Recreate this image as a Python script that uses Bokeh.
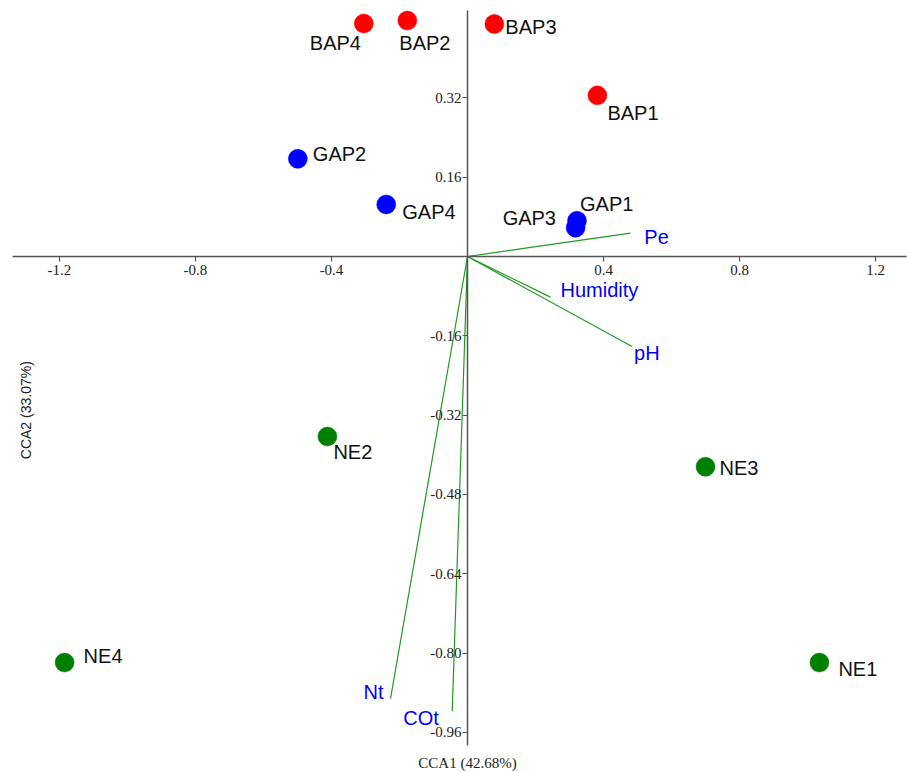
import math
from bokeh.plotting import figure
from bokeh.models import LinearAxis, FixedTicker, PrintfTickFormatter, ColumnDataSource
from bokeh.core.properties import value
from bokeh.embed import file_html
from bokeh.resources import INLINE

# ---- data -------------------------------------------------------------
site_names = ["BAP1", "BAP2", "BAP3", "BAP4",
              "GAP1", "GAP2", "GAP3", "GAP4",
              "NE1", "NE2", "NE3", "NE4"]
site_group = ["BAP"] * 4 + ["GAP"] * 4 + ["NE"] * 4
site_cca1 = [0.382, -0.177, 0.079, -0.305,
             0.322, -0.499, 0.318, -0.239,
             1.035, -0.412, 0.700, -1.185]
site_cca2 = [0.325, 0.476, 0.469, 0.470,
             0.072, 0.197, 0.058, 0.105,
             -0.819, -0.363, -0.424, -0.819]

env_names = ["Pe", "Humidity", "pH", "Nt", "COt"]
env_cca1 = [0.479, 0.244, 0.484, -0.2265, -0.045]
env_cca2 = [0.047, -0.082, -0.1815, -0.892, -0.917]

x_ticks = [-1.2, -0.8, -0.4, 0.4, 0.8, 1.2]
y_ticks = [0.32, 0.16, -0.16, -0.32, -0.48, -0.64, -0.80, -0.96]

x_title = "CCA1 (42.68%)"
y_title = "CCA2 (33.07%)"

# ---- styling / layout ------------------------------------------------
group_colors = {"BAP": "#ff0000", "GAP": "#0000ff", "NE": "#008000"}
# label offsets in screen px (dx right, dy down)
site_dx = [10, -8, 11, -54, 3, 15, -73, 16, 19, 6, 14, 19]
site_dy = [18, 23, 3, 20, -17, -5, -10, 8, 6, 16, 1, -7]
env_dx = [14, 10, 2, -27, -49]
env_dy = [4, -7, 7, -7, 7]

X0, X1 = -1.3735, 1.297
Y0, Y1 = -1.0387, 0.5163
XB = (-1.338, 1.291)
YB = (-0.9863, 0.4962)

p = figure(width=908, height=771, x_range=(X0, X1), y_range=(Y0, Y1),
           x_axis_location=None, y_axis_location=None,
           toolbar_location=None, output_backend="svg",
           min_border=0, outline_line_color=None)
p.grid.grid_line_color = None

xaxis = LinearAxis(fixed_location=0, bounds=XB,
                   ticker=FixedTicker(ticks=x_ticks),
                   formatter=PrintfTickFormatter(format="%.1f"))
yaxis = LinearAxis(fixed_location=0, bounds=YB,
                   ticker=FixedTicker(ticks=y_ticks),
                   formatter=PrintfTickFormatter(format="%.2f"))
for ax in (xaxis, yaxis):
    ax.axis_line_color = "#555555"
    ax.axis_line_width = 1.5
    ax.major_tick_line_color = "#555555"
    ax.major_tick_line_width = 1.2
    ax.minor_tick_line_color = None
    ax.major_tick_in = 0
    ax.major_tick_out = 5
    ax.major_label_text_font = "Liberation Serif"
    ax.major_label_text_font_size = "15px"
    ax.major_label_text_color = "#222222"
xaxis.major_label_standoff = 4
yaxis.major_label_standoff = 1
p.add_layout(xaxis, "below")
p.add_layout(yaxis, "left")

# environmental vectors
env_src = ColumnDataSource(dict(x0=[0] * len(env_names), y0=[0] * len(env_names),
                                x1=env_cca1, y1=env_cca2, name=env_names,
                                dx=env_dx, dy=env_dy))
p.segment(x0="x0", y0="y0", x1="x1", y1="y1", source=env_src,
          line_color="#229922", line_width=1.2)
p.text(x="x1", y="y1", text="name", source=env_src, x_offset="dx", y_offset="dy",
       text_font=value("Liberation Sans"), text_font_size="20px",
       text_color="#0000ff", text_baseline="middle", text_align="left")

# sites
site_src = ColumnDataSource(dict(x=site_cca1, y=site_cca2, name=site_names,
                                 color=[group_colors[g] for g in site_group],
                                 dx=site_dx, dy=site_dy))
p.scatter(x="x", y="y", source=site_src, size=19, fill_color="color",
          line_color="color", line_width=0.5)
p.text(x="x", y="y", text="name", source=site_src, x_offset="dx", y_offset="dy",
       text_font=value("Liberation Sans"), text_font_size="20px",
       text_color="#111111", text_baseline="middle", text_align="left")

# axis titles
p.text(x=[0], y=[YB[0]], text=[x_title], y_offset=17,
       text_font=value("Liberation Serif"), text_font_size="15px",
       text_color="#222222", text_align="center", text_baseline="middle")
p.text(x=[X0 + 0.074], y=[-0.31], text=[y_title], angle=math.pi / 2,
       text_font=value("Liberation Sans"), text_font_size="14px",
       text_color="#222222", text_align="center", text_baseline="middle")

open("out.html", "w").write(file_html(p, INLINE))
